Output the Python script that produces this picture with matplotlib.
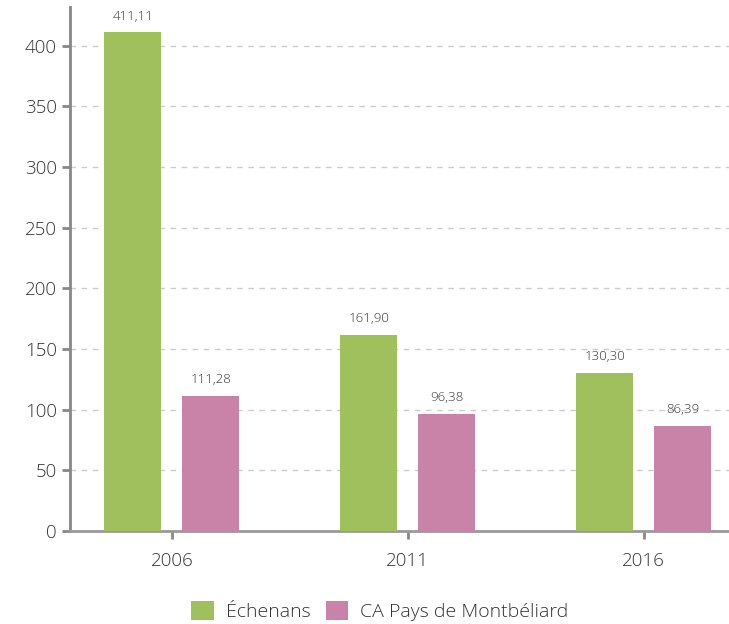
import numpy as np
import matplotlib.pyplot as plt

plt.rcParams['font.family'] = ['Open Sans', 'DejaVu Sans']
plt.rcParams['font.weight'] = 'light'

years = ['2006', '2011', '2016']
echenans = [411.11, 161.90, 130.30]
capm = [111.28, 96.38, 86.39]
series_names = ['Échenans', 'CA Pays de Montbéliard']
colors = ['#a0c05e', '#c982a8']

fig = plt.figure(figsize=(7.29, 6.24), dpi=100)
ax = fig.add_axes([70/729, 93/624, 659/729, 524/624])

x = np.arange(len(years))
w = 0.2415
off = 0.165
b1 = ax.bar(x - off, echenans, w, color=colors[0], label=series_names[0], zorder=3)
b2 = ax.bar(x + off, capm, w, color=colors[1], label=series_names[1], zorder=3)

def fmt(v):
    return f'{v:.2f}'.replace('.', ',')

for bars, vals in ((b1, echenans), (b2, capm)):
    for r, v in zip(bars, vals):
        ax.annotate(fmt(v), (r.get_x() + r.get_width()/2, v), xytext=(0, 7),
                    textcoords='offset points', ha='center', va='bottom',
                    fontsize=9.5, color='#333333')

ax.set_xlim(-0.432, 2.362)
ax.set_ylim(0, 432)
ax.set_yticks(np.arange(0, 401, 50))
ax.set_xticks(x)
ax.set_xticklabels(years)
ax.yaxis.grid(True, linestyle=(0, (4, 4)), color='#cccccc', linewidth=1, zorder=0)
ax.set_axisbelow(True)

for s in ['top', 'right']:
    ax.spines[s].set_visible(False)
ax.spines['left'].set_color('#888888')
ax.spines['left'].set_linewidth(2)
ax.spines['bottom'].set_color('#999999')
ax.spines['bottom'].set_linewidth(2)
ax.tick_params(axis='both', colors='#888888', width=2, length=6, labelcolor='#333333', labelsize=13.5)
ax.tick_params(axis='x', pad=9)

ax.legend(loc='upper center', bbox_to_anchor=(0.47, -0.1), ncol=2, frameon=False,
          fontsize=14, handlelength=1.15, handleheight=1.15, handletextpad=0.6,
          columnspacing=0.8, labelcolor='#333333')

fig.savefig('out.png', dpi=100)
